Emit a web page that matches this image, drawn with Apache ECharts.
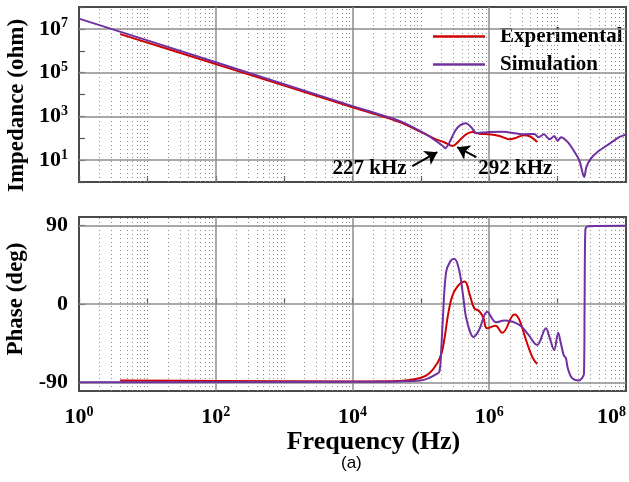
<!DOCTYPE html>
<html>
<head>
<meta charset="utf-8">
<script src="https://cdn.jsdelivr.net/npm/echarts@6/dist/echarts.min.js"></script>
<style>html,body{margin:0;padding:0;background:#fff}#c{width:629px;height:482px}</style>
</head>
<body>
<div id="c"></div>
<script>
// ---- Data (frequency in Hz) ----
const simZFreq = [1, 100, 1e4, 4.9e4, 9.8e4, 1.32e5, 1.66e5, 2.08e5, 2.27e5, 2.63e5, 3.16e5, 3.72e5, 4.57e5, 5.5e5, 6.46e5, 7.94e5, 1e6, 1.58e6, 3.16e6, 4.57e6, 5.25e6, 6.31e6, 7.59e6, 8.91e6, 1e7, 1.12e7, 1.41e7, 1.78e7, 2.09e7, 2.34e7, 2.45e7, 2.63e7, 3.02e7, 3.98e7, 5.62e7, 7.94e7, 1e8];
const simZ     = [2.95e7, 3.0e5, 2951, 617, 214, 126, 76, 45, 35, 66, 214, 389, 479, 309, 170, 182, 195, 200, 151, 158, 112, 151, 89, 126, 76, 112, 66, 23, 9.3, 2.3, 1.7, 4.8, 11.2, 26, 54, 112, 151];
const expZFreq = [4, 100, 1e4, 4.9e4, 9.8e4, 1.32e5, 1.66e5, 2.19e5, 2.92e5, 3.16e5, 3.8e5, 4.57e5, 5.62e5, 7.08e5, 1e6, 1.41e6, 2.0e6, 2.51e6, 3.16e6, 3.98e6, 5.01e6];
const expZ     = [5.75e6, 2.45e5, 2630, 550, 200, 126, 89, 66, 44, 50, 89, 151, 195, 162, 151, 126, 89, 107, 138, 120, 68];

const simPFreq = [1, 1e4, 4.9e4, 9.8e4, 1.32e5, 1.66e5, 1.86e5, 1.97e5, 2.08e5, 2.33e5, 2.69e5, 3.09e5, 3.63e5, 4.17e5, 4.57e5, 5.25e5, 5.89e5, 7.08e5, 9.33e5, 1.26e6, 1.66e6, 2.75e6, 3.8e6, 5.01e6, 5.37e6, 6.76e6, 7.59e6, 8.91e6, 1.02e7, 1.1e7, 1.23e7, 1.32e7, 1.41e7, 1.62e7, 2.04e7, 2.29e7, 2.43e7, 2.48e7, 2.54e7, 2.82e7, 1e8];
const simPhase = [-90, -89.5, -89, -88, -85, -81, -78, -57, -22, 36, 49, 52, 39, 8, -15, -32, -38, -30, -9, -21, -19, -24, -36, -47, -45, -28, -38, -53, -33, -43, -59, -62, -74, -85, -88, -85, -80, 0, 85, 89.5, 90];
const expPFreq = [4, 100, 1e4, 4.9e4, 9.8e4, 1.32e5, 1.74e5, 2.0e5, 2.19e5, 2.63e5, 3.16e5, 4.37e5, 5.13e5, 6.03e5, 7.08e5, 8.13e5, 9.33e5, 1.23e6, 1.55e6, 2.34e6, 2.75e6, 3.47e6, 4.27e6, 5.01e6];
const expPhase = [-88, -88.5, -89, -88.5, -85, -80, -68, -57, -42, -3, 16, 26, 12, -5, -8, -15, -28, -25, -33, -12, -18, -42, -61, -69];

const seriesNames = ['Experimental', 'Simulation'];
const seriesColors = ['#d00000', '#7030a0'];

const xTickValues = [1, 100, 1e4, 1e6, 1e8];
const zTickValues = [10, 1e3, 1e5, 1e7];
const phaseTickValues = [-90, 0, 90];
const xMajorGrid = [100, 1e4, 1e6];

// annotations: [label, textFreq, textZ, arrowFromFreq, arrowFromZ, arrowToFreq, arrowToZ]
const annotations = [
  ['227 kHz', 1.78e4, 4.3, 7.5e4, 5.3, 1.74e5, 23],
  ['292 kHz', 2.4e6, 4.3, 6.46e5, 13.8, 3.4e5, 39]
];

// ---- Build ----
const FONT = '"Liberation Serif", "Times New Roman", serif';
const zip = (a, b) => a.map((v, i) => [v, b[i]]);

// minor grid positions on log x axis (2..9 per decade, plus odd decades)
const minorX = [];
for (let n = 0; n < 8; n++) {
  for (let k = 2; k <= 9; k++) minorX.push(k * Math.pow(10, n));
  if (n % 2 === 1) minorX.push(Math.pow(10, n));
}

const supRich = {
  b: { fontFamily: FONT, fontWeight: 'bold', fontSize: 22, color: '#000', lineHeight: 24 },
  s: { fontFamily: FONT, fontWeight: 'bold', fontSize: 14, color: '#000', verticalAlign: 'top', lineHeight: 14 }
};
const powFmt = v => '{b|10}{s|' + Math.round(Math.log10(v)) + '}';

function gridLineSeries(xi, yi, hValues) {
  const solid = { type: 'solid', color: '#8c8c8c', width: 1.5 };
  const dotted = { type: [1, 3], color: '#8a8a8a', width: 1 };
  const data = [];
  minorX.forEach(v => data.push({ xAxis: v, lineStyle: dotted }));
  xMajorGrid.forEach(v => data.push({ xAxis: v, lineStyle: solid }));
  hValues.forEach(v => data.push({ yAxis: v, lineStyle: solid }));
  return {
    type: 'line', name: 'grid' + xi, xAxisIndex: xi, yAxisIndex: yi, data: [], z: 1, silent: true,
    markLine: { silent: true, symbol: 'none', label: { show: false }, animation: false, data: data }
  };
}

const gridTop = gridLineSeries(0, 0, zTickValues);
gridTop.markPoint = {
  silent: true, symbol: 'rect', symbolSize: 0, animation: false,
  data: annotations.map(a => ({
    coord: [a[1], a[2]],
    label: { show: true, formatter: a[0], position: 'inside', fontFamily: FONT, fontWeight: 'bold', fontSize: 21, color: '#000' }
  }))
};
const arrowSeries = {
  type: 'line', name: 'arrows', xAxisIndex: 0, yAxisIndex: 0, data: [], z: 6, silent: true,
  markLine: {
    silent: true, symbol: ['none', 'arrow'], symbolSize: 12, animation: false,
    label: { show: false },
    lineStyle: { color: '#000', width: 2, type: 'solid' },
    itemStyle: { color: '#000' },
    data: annotations.map(a => [{ coord: [a[3], a[4]] }, { coord: [a[5], a[6]] }])
  }
};

const lineBase = { type: 'line', showSymbol: false, symbol: 'none', z: 5, lineStyle: { width: 2 }, animation: false };

const xAxisCommon = {
  type: 'log', logBase: 10, min: 1, max: 1e8, splitNumber: 8,
  axisLine: { show: false },
  axisTick: { show: true, inside: true, length: 6, lineStyle: { color: '#555', width: 1.2 } },
  splitLine: { show: false }
};

const option = {
  animation: false,
  backgroundColor: '#fff',
  grid: [
    { left: 79, right: 3, top: 7, height: 175, outerBoundsMode: 'none', containLabel: false, show: true, borderColor: '#4a4a4a', borderWidth: 2, backgroundColor: 'transparent' },
    { left: 79, right: 3, top: 217, height: 174, outerBoundsMode: 'none', containLabel: false, show: true, borderColor: '#4a4a4a', borderWidth: 2, backgroundColor: 'transparent' }
  ],
  legend: {
    data: seriesNames, orient: 'vertical', left: 428, top: 21, itemGap: 7,
    icon: 'rect', itemWidth: 52, itemHeight: 2.5,
    textStyle: { fontFamily: FONT, fontWeight: 'bold', fontSize: 21, color: '#000', padding: [0, 0, 0, 10] }
  },
  xAxis: [
    Object.assign({}, xAxisCommon, { gridIndex: 0, axisLabel: { show: false } }),
    Object.assign({}, xAxisCommon, {
      gridIndex: 1,
      axisLabel: { show: true, customValues: xTickValues, formatter: powFmt, rich: supRich, margin: 14, alignMaxLabel: 'right' },
      name: 'Frequency (Hz)', nameLocation: 'middle', nameGap: 36,
      nameTextStyle: { fontFamily: FONT, fontWeight: 'bold', fontSize: 26, color: '#000', padding: [0, 0, 0, 42] }
    })
  ],
  yAxis: [
    {
      type: 'log', logBase: 10, min: 1, max: 1e8, splitNumber: 8, gridIndex: 0,
      axisLine: { show: false },
      axisTick: { show: true, inside: true, length: 6, lineStyle: { color: '#555', width: 1.2 } },
      splitLine: { show: false },
      axisLabel: { customValues: zTickValues, formatter: powFmt, rich: supRich, margin: 11 },
      name: 'Impedance (ohm)', nameLocation: 'middle', nameGap: 49,
      nameTextStyle: { fontFamily: FONT, fontWeight: 'bold', fontSize: 23, color: '#000', padding: [0, 22, 0, 0] }
    },
    {
      type: 'value', min: -100, max: 100, interval: 10, gridIndex: 1,
      axisLine: { show: false },
      axisTick: { show: true, inside: true, length: 6, customValues: phaseTickValues, lineStyle: { color: '#555', width: 1.2 } },
      splitLine: { show: false },
      axisLabel: { customValues: phaseTickValues, fontFamily: FONT, fontWeight: 'bold', fontSize: 22, color: '#000', margin: 11 },
      name: 'Phase (deg)', nameLocation: 'middle', nameGap: 49,
      nameTextStyle: { fontFamily: FONT, fontWeight: 'bold', fontSize: 23, color: '#000', padding: [0, 0, 0, 10] }
    }
  ],
  graphic: [
    { type: 'text', left: 341, top: 455, style: { text: '(a)', font: '17px "Liberation Sans", Arial, sans-serif', fill: '#000' } }
  ],
  series: [
    gridTop,
    gridLineSeries(1, 1, phaseTickValues),
    Object.assign({}, lineBase, { name: seriesNames[0], xAxisIndex: 0, yAxisIndex: 0, color: seriesColors[0], smooth: 0.25, data: zip(expZFreq, expZ) }),
    Object.assign({}, lineBase, { name: seriesNames[1], xAxisIndex: 0, yAxisIndex: 0, color: seriesColors[1], smooth: 0.25, data: zip(simZFreq, simZ) }),
    Object.assign({}, lineBase, { name: seriesNames[0], xAxisIndex: 1, yAxisIndex: 1, color: seriesColors[0], smooth: 0.4, data: zip(expPFreq, expPhase) }),
    Object.assign({}, lineBase, { name: seriesNames[1], xAxisIndex: 1, yAxisIndex: 1, color: seriesColors[1], smooth: 0.35, data: zip(simPFreq, simPhase) }),
    arrowSeries
  ]
};

const chart = echarts.init(document.getElementById('c'), null, { renderer: 'canvas' });
chart.setOption(option);
</script>
</body>
</html>
